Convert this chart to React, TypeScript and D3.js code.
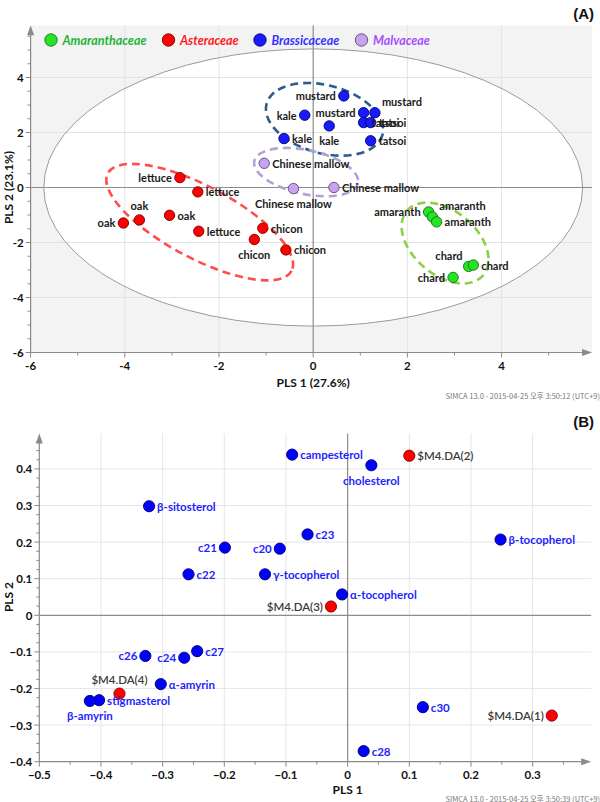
import React from "react";
import * as d3 from "d3";

// ---------- Panel A : PLS-DA score plot ----------
const families = ["Amaranthaceae", "Asteraceae", "Brassicaceae", "Malvaceae"];
const familyFill = ["#22e622", "#ff0000", "#1a1aff", "#c8a2f2"];
const familyStroke = ["#1f6a1f", "#7a0000", "#00006e", "#5a4a6e"];
const familyText = ["#1db33b", "#ff1a1a", "#3333ff", "#a64dff"];

const scoreLabels = [
  "amaranth", "amaranth", "amaranth", "chard", "chard", "chard",
  "lettuce", "lettuce", "oak", "oak", "oak", "lettuce", "chicon", "chicon", "chicon",
  "mustard", "kale", "kale", "kale", "mustard", "mustard", "tatsoi", "tatsoi", "tatsoi",
  "Chinese mallow", "Chinese mallow", "Chinese mallow",
];
const scoreX = [
  2.45, 2.53, 2.62, 3.3, 3.4, 2.97,
  -2.83, -2.45, -4.03, -3.69, -3.05, -2.43, -1.07, -1.25, -0.58,
  0.65, -0.18, 0.34, -0.62, 1.07, 1.31, 1.07, 1.22, 1.22,
  -1.04, -0.42, 0.44,
];
const scoreY = [
  -0.89, -1.07, -1.25, -2.87, -2.82, -3.27,
  0.36, -0.16, -1.29, -1.18, -1.01, -1.59, -1.48, -1.89, -2.27,
  3.33, 2.63, 2.24, 1.78, 2.72, 2.72, 2.36, 2.36, 1.7,
  0.88, -0.04, 0.0,
];
const scoreFamily = [
  0, 0, 0, 0, 0, 0,
  1, 1, 1, 1, 1, 1, 1, 1, 1,
  2, 2, 2, 2, 2, 2, 2, 2, 2,
  3, 3, 3,
];
const scoreLabelPos = [
  "l", "tr", "r", "tl", "r", "l",
  "l", "r", "l", "t", "r", "r", "r", "b", "r",
  "l", "l", "b", "r", "l", "tr", "r", "r", "r",
  "r", "b", "r",
];

// class ellipses (centre in score units, axes in px, angle in degrees)
const classCx = [2.8, -2.41, 0.24, -0.15];
const classCy = [-2.02, -1.26, 2.48, 0.56];
const classRx = [50, 104, 60, 53];
const classRy = [32, 36, 34, 22];
const classAngle = [40, 28, 15, 12];
const classStroke = ["#8ccf4a", "#ff4d4d", "#2e5c8a", "#b3a1d6"];

// Hotelling T2 ellipse
const t2Rx = 5.72;
const t2Ry = 5.04;

const aTicks = [-6, -4, -2, 0, 2, 4];

// ---------- Panel B : loading plot ----------
const loadLabels = [
  "campesterol", "$M4.DA(2)", "cholesterol", "β-sitosterol", "c23", "c21", "c20",
  "β-tocopherol", "c22", "γ-tocopherol", "α-tocopherol", "$M4.DA(3)", "c26", "c24",
  "c27", "α-amyrin", "$M4.DA(4)", "stigmasterol", "β-amyrin", "c30", "$M4.DA(1)", "c28",
];
const loadX = [
  -0.09, 0.1, 0.0385, -0.322, -0.065, -0.199, -0.11,
  0.248, -0.258, -0.134, -0.009, -0.027, -0.328, -0.265,
  -0.244, -0.303, -0.37, -0.403, -0.418, 0.122, 0.331, 0.026,
];
const loadY = [
  0.439, 0.436, 0.41, 0.298, 0.221, 0.185, 0.182,
  0.207, 0.112, 0.112, 0.057, 0.024, -0.111, -0.116,
  -0.098, -0.188, -0.214, -0.232, -0.234, -0.251, -0.274, -0.371,
];
const loadIsClass = [
  0, 1, 0, 0, 0, 0, 0,
  0, 0, 0, 0, 1, 0, 0,
  0, 0, 1, 0, 0, 0, 1, 0,
];
const loadLabelPos = [
  "r", "r", "b", "r", "r", "l", "l",
  "r", "r", "r", "r", "l", "l", "l",
  "r", "r", "t", "r", "b", "r", "l", "r",
];
const bXTicks = [-0.5, -0.4, -0.3, -0.2, -0.1, 0, 0.1, 0.2, 0.3];
const bYTicks = [-0.4, -0.3, -0.2, -0.1, 0, 0.1, 0.2, 0.3, 0.4];

const POS: Record<string, { dx: number; dy: number; anchor: string }> = {
  r: { dx: 8, dy: 0, anchor: "start" },
  l: { dx: -8, dy: 0, anchor: "end" },
  b: { dx: 0, dy: 15, anchor: "middle" },
  t: { dx: 0, dy: -14, anchor: "middle" },
  tr: { dx: 7, dy: -11, anchor: "start" },
  tl: { dx: -6, dy: -11, anchor: "end" },
};

const FONT = "Lato, 'Open Sans', sans-serif";
const AXIS = "#8a8a8a";

function fmt(v: number) {
  if (Math.abs(v) < 1e-9) return "0";
  return d3.format(".1f")(v).replace(/\.0$/, "");
}

function Axes({ x, y, xTicks, yTicks, xMinor, yMinor, xEnd, yEnd, xFmt, yFmt }: any) {
  const x0 = x.range()[0];
  const y0 = y.range()[0];
  return (
    <g>
      <line x1={x0} x2={xEnd - 8} y1={y0} y2={y0} stroke={AXIS} strokeWidth={1.2} />
      <path d={`M${xEnd},${y0} L${xEnd - 10},${y0 - 3.5} L${xEnd - 10},${y0 + 3.5} Z`} fill={AXIS} />
      <line x1={x0} x2={x0} y1={y0} y2={yEnd + 8} stroke={AXIS} strokeWidth={1.2} />
      <path d={`M${x0},${yEnd} L${x0 - 3.5},${yEnd + 10} L${x0 + 3.5},${yEnd + 10} Z`} fill={AXIS} />
      {xMinor.map((t: number, i: number) => (
        <line key={"xm" + i} x1={x(t)} x2={x(t)} y1={y0} y2={y0 + 3} stroke={AXIS} />
      ))}
      {yMinor.map((t: number, i: number) => (
        <line key={"ym" + i} x1={x0 - 3} x2={x0} y1={y(t)} y2={y(t)} stroke={AXIS} />
      ))}
      {xTicks.map((t: number, i: number) => (
        <g key={"xt" + i}>
          <line x1={x(t)} x2={x(t)} y1={y0} y2={y0 + 5} stroke={AXIS} />
          <text x={x(t)} y={y0 + 13} textAnchor="middle" dominantBaseline="central"
            fontFamily={FONT} fontWeight={700} fontSize={11.5} fill="#111">{xFmt(t)}</text>
        </g>
      ))}
      {yTicks.map((t: number, i: number) => (
        <g key={"yt" + i}>
          <line x1={x0 - 5} x2={x0} y1={y(t)} y2={y(t)} stroke={AXIS} />
          <text x={x0 - 7} y={y(t)} textAnchor="end" dominantBaseline="central"
            fontFamily={FONT} fontWeight={700} fontSize={11.5} fill="#111">{yFmt(t)}</text>
        </g>
      ))}
    </g>
  );
}

function PanelA() {
  const x = d3.scaleLinear().domain([-6, 6]).range([30.6, 595.8]);
  const y = d3.scaleLinear().domain([-6, 6]).range([352.5, 22.5]);
  const xEnd = x(5.92);
  const yEnd = y(5.9);
  const grid = [-4, -2, 2, 4];
  const xMinor = d3.range(-5, 6, 2);
  const yMinor = d3.range(-6, 6, 0.5).filter((v) => Math.abs(v % 2) > 1e-9);
  const idx = d3.range(scoreLabels.length);
  return (
    <g>
      <defs>
        <clipPath id="clipA">
          <rect x={x(-6)} y={yEnd} width={xEnd - x(-6)} height={y(-6) - yEnd} />
        </clipPath>
      </defs>
      <g clipPath="url(#clipA)">
        <rect x={x(-6)} y={yEnd} width={xEnd - x(-6)} height={y(-6) - yEnd} fill="#f3f3f3" />
        <ellipse cx={x(0)} cy={y(0)} rx={x(t2Rx) - x(0)} ry={y(0) - y(t2Ry)} fill="#ffffff" />
        {grid.map((g) => (
          <line key={"gx" + g} x1={x(g)} x2={x(g)} y1={yEnd} y2={y(-6)} stroke="#e3e3e3" />
        ))}
        {grid.map((g) => (
          <line key={"gy" + g} x1={x(-6)} x2={xEnd} y1={y(g)} y2={y(g)} stroke="#e3e3e3" />
        ))}
        <line x1={x(0)} x2={x(0)} y1={yEnd} y2={y(-6)} stroke="#8c8c8c" strokeWidth={1.2} />
        <line x1={x(-6)} x2={xEnd} y1={y(0)} y2={y(0)} stroke="#8c8c8c" strokeWidth={1.2} />
        <ellipse cx={x(0)} cy={y(0)} rx={x(t2Rx) - x(0)} ry={y(0) - y(t2Ry)} fill="none" stroke="#9a9a9a" strokeWidth={1} />
        {classCx.map((c, i) => (
          <ellipse key={"ce" + i} cx={x(c)} cy={y(classCy[i])} rx={classRx[i]} ry={classRy[i]}
            transform={`rotate(${classAngle[i]} ${x(c)} ${y(classCy[i])})`}
            fill="none" stroke={classStroke[i]} strokeWidth={2.6} strokeDasharray="8 5" />
        ))}
        {idx.map((i) => (
          <circle key={"p" + i} cx={x(scoreX[i])} cy={y(scoreY[i])} r={5.2}
            fill={familyFill[scoreFamily[i]]} stroke={familyStroke[scoreFamily[i]]} strokeWidth={0.9} />
        ))}
        {idx.map((i) => {
          const p = POS[scoreLabelPos[i]];
          return (
            <text key={"l" + i} x={x(scoreX[i]) + p.dx} y={y(scoreY[i]) + p.dy} textAnchor={p.anchor}
              dominantBaseline="central" fontFamily={FONT} fontWeight={700} fontSize={11} fill="#1a1a1a">
              {scoreLabels[i]}
            </text>
          );
        })}
      </g>
      {/* legend */}
      {families.map((f, i) => {
        const lx = [51, 168.5, 260, 361.5][i];
        return (
          <g key={"lg" + i}>
            <circle cx={lx} cy={40} r={6.2} fill={familyFill[i]} stroke={familyStroke[i]} strokeWidth={0.9} />
            <text x={lx + 11.5} y={40} dominantBaseline="central" fontFamily={FONT} fontStyle="italic"
              fontWeight={700} fontSize={12.5} fill={familyText[i]}>{f}</text>
          </g>
        );
      })}
      <Axes x={x} y={y} xTicks={aTicks} yTicks={aTicks} xMinor={xMinor} yMinor={yMinor}
        xEnd={xEnd} yEnd={yEnd} xFmt={(t: number) => String(t)} yFmt={(t: number) => String(t)} />
      <text x={x(0)} y={382} textAnchor="middle" dominantBaseline="central" fontFamily={FONT}
        fontWeight={700} fontSize={12} fill="#111">PLS 1 (27.6%)</text>
      <text transform={`translate(8,${y(0)}) rotate(-90)`} textAnchor="middle" dominantBaseline="central"
        fontFamily={FONT} fontWeight={700} fontSize={12} fill="#111">PLS 2 (23.1%)</text>
      <text x={600} y={395} textAnchor="end" dominantBaseline="central"
        fontFamily="'Noto Sans CJK KR', 'Noto Sans', sans-serif" fontSize={7.5} fill="#777">
        SIMCA 13.0 - 2015-04-25 오후 3:50:12 (UTC+9)
      </text>
      <text x={594} y={13} textAnchor="end" dominantBaseline="central" fontFamily="'Liberation Sans', Arial, sans-serif"
        fontWeight={700} fontSize={15} fill="#111">(A)</text>
    </g>
  );
}

function PanelB() {
  const x = d3.scaleLinear().domain([-0.5, 0.4]).range([39.3, 594.3]);
  const y = d3.scaleLinear().domain([-0.4, 0.5]).range([761.7, 432.3]);
  const xEnd = x(0.395);
  const yEnd = y(0.497);
  const xMinor = d3.range(-0.45, 0.39, 0.1);
  const yMinor = d3.range(-0.4, 0.48, 0.025).filter((v) => Math.abs(Math.round(v * 10) - v * 10) > 1e-6);
  const gx = bXTicks.filter((t) => t > -0.45 && Math.abs(t) > 1e-9);
  const gy = bYTicks.filter((t) => t > -0.35 && Math.abs(t) > 1e-9);
  const idx = d3.range(loadLabels.length);
  return (
    <g>
      {gx.map((g, i) => (
        <line key={"gx" + i} x1={x(g)} x2={x(g)} y1={yEnd} y2={y(-0.4)} stroke="#e6e6e6" />
      ))}
      {gy.map((g, i) => (
        <line key={"gy" + i} x1={x(-0.5)} x2={xEnd} y1={y(g)} y2={y(g)} stroke="#e6e6e6" />
      ))}
      <line x1={x(0)} x2={x(0)} y1={yEnd} y2={y(-0.4)} stroke="#8c8c8c" strokeWidth={1.2} />
      <line x1={x(-0.5)} x2={xEnd} y1={y(0)} y2={y(0)} stroke="#8c8c8c" strokeWidth={1.2} />
      {idx.map((i) => (
        <circle key={"p" + i} cx={x(loadX[i])} cy={y(loadY[i])} r={5.6}
          fill={loadIsClass[i] ? "#ff0000" : "#0000ff"} stroke={loadIsClass[i] ? "#7a0000" : "#00006e"}
          strokeWidth={0.9} />
      ))}
      {idx.map((i) => {
        const p = POS[loadLabelPos[i]];
        const cls = loadIsClass[i] === 1;
        return (
          <text key={"l" + i} x={x(loadX[i]) + p.dx} y={y(loadY[i]) + p.dy} textAnchor={p.anchor}
            dominantBaseline="central" fontFamily={FONT} fontWeight={cls ? 600 : 700} fontSize={11.5}
            fill={cls ? "#3a3a3a" : "#1f1fff"}>
            {loadLabels[i]}
          </text>
        );
      })}
      <Axes x={x} y={y} xTicks={bXTicks} yTicks={bYTicks} xMinor={xMinor} yMinor={yMinor}
        xEnd={xEnd} yEnd={yEnd} xFmt={fmt} yFmt={fmt} />
      <text x={x(0)} y={789} textAnchor="middle" dominantBaseline="central" fontFamily={FONT}
        fontWeight={700} fontSize={12} fill="#111">PLS 1</text>
      <text transform={`translate(8,${y(0.05)}) rotate(-90)`} textAnchor="middle" dominantBaseline="central"
        fontFamily={FONT} fontWeight={700} fontSize={12} fill="#111">PLS 2</text>
      <text x={600} y={798} textAnchor="end" dominantBaseline="central"
        fontFamily="'Noto Sans CJK KR', 'Noto Sans', sans-serif" fontSize={7.5} fill="#777">
        SIMCA 13.0 - 2015-04-25 오후 3:50:39 (UTC+9)
      </text>
      <text x={594} y={421} textAnchor="end" dominantBaseline="central" fontFamily="'Liberation Sans', Arial, sans-serif"
        fontWeight={700} fontSize={15} fill="#111">(B)</text>
    </g>
  );
}

export default function App() {
  return (
    <svg width={600} height={802} viewBox="0 0 600 802"
      style={{ position: "absolute", left: 0, top: 0, background: "#fff", display: "block" }}>
      <rect width={600} height={802} fill="#fff" />
      <PanelA />
      <PanelB />
    </svg>
  );
}
